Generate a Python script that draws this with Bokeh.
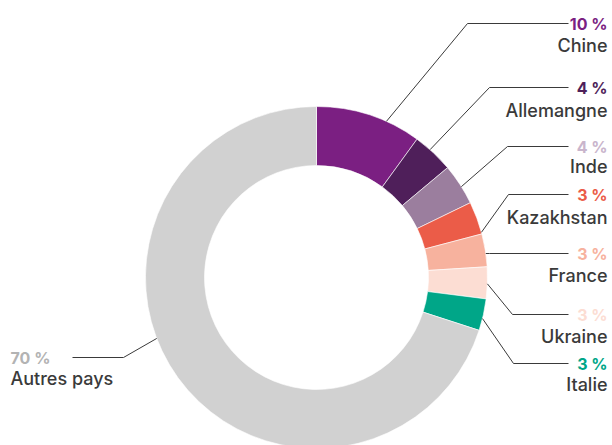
import numpy as np
from bokeh.plotting import figure
from bokeh.models import Range1d, ColumnDataSource
from bokeh.core.properties import value
from bokeh.embed import file_html
from bokeh.resources import INLINE

# ---- data ----
countries = ["Chine", "Allemangne", "Inde", "Kazakhstan", "France", "Ukraine", "Italie", "Autres pays"]
shares = [10.0, 3.9, 3.9, 3.1, 3.1, 3.0, 3.0, 70.0]
pct_labels = ["10 %", "4 %", "4 %", "3 %", "3 %", "3 %", "3 %", "70 %"]

# ---- styles ----
slice_colors = ["#7B1F82", "#4F1F5A", "#9B7E9E", "#EB5C48", "#F7B29E", "#FCDDD3", "#00A688", "#D1D1D1"]
pct_colors = ["#7B1F82", "#4F1F5A", "#C9B5CC", "#EB5C48", "#F7B29E", "#FCDDD3", "#00A688", "#B3B3B3"]
name_color = "#3A3A3A"
line_color = "#3A3A3A"
PCT_FONT = "Inter"
NAME_FONT = "Inter Medium, Inter"

# ---- layout (page pixel positions, converted below) ----
W, H = 612, 445
def px(x):
    return x
def py(y):
    return H - y

cx, cy = px(316), py(277)
r_out, r_in = 171, 112
anchor_frac = [0.67, 0.40, 0.56, 0.95, 0.60, 0.53, 0.62, 0.56]
label_y = [23, 87, 146, 194, 253, 314, 363, 357]      # leader / pct row
name_dy = [22, 23, 20, 23, 22, 22, 21, 21]             # name row offset below pct row
elbow_x = [467, 489, 507, 508, 489, 512, 513, 123]
line_end_x = [568, 568, 568, 568, 568, 568, 568, 72]
text_x_right = 607
text_x_left = 10

# ---- geometry from data ----
total = float(sum(shares))
cum = np.concatenate([[0.0], np.cumsum(shares)]) / total
starts = np.pi / 2 - 2 * np.pi * cum[:-1]
ends = np.pi / 2 - 2 * np.pi * cum[1:]

p = figure(width=W, height=H, output_backend="svg", toolbar_location=None,
           x_range=Range1d(0, W), y_range=Range1d(0, H),
           x_axis_location=None, y_axis_location=None, min_border=0)
p.outline_line_color = None
p.grid.visible = False
p.background_fill_color = "white"
p.border_fill_color = "white"

src = ColumnDataSource(dict(start=starts, end=ends, color=slice_colors, name=countries))
p.annular_wedge(x=cx, y=cy, inner_radius=r_in, outer_radius=r_out,
                start_angle="start", end_angle="end", direction="clock",
                fill_color="color", line_color="white", line_width=0.6, source=src)

# leader lines
xs, ys = [], []
for i in range(len(shares)):
    f = cum[i] + anchor_frac[i] * (cum[i + 1] - cum[i])
    a = np.pi / 2 - 2 * np.pi * f
    ax, ay = cx + r_out * np.cos(a), cy + r_out * np.sin(a)
    xs.append([ax, px(elbow_x[i]), px(line_end_x[i])])
    ys.append([ay, py(label_y[i]), py(label_y[i])])
p.multi_line(xs=xs, ys=ys, line_color=line_color, line_width=1)

# labels
n = len(shares)
right = list(range(n - 1))
left = [n - 1]
for idx, xpos, align in ((right, px(text_x_right), "right"), (left, px(text_x_left), "left")):
    s_pct = ColumnDataSource(dict(x=[xpos] * len(idx), y=[py(label_y[i]) for i in idx],
                                  t=[pct_labels[i] for i in idx], c=[pct_colors[i] for i in idx]))
    p.text(x="x", y="y", text="t", text_color="c", source=s_pct, text_align=align,
           text_baseline="middle", text_font=value(PCT_FONT), text_font_size="16px",
           text_font_style="bold")
    s_nm = ColumnDataSource(dict(x=[xpos] * len(idx), y=[py(label_y[i] + name_dy[i]) for i in idx],
                                 t=[countries[i] for i in idx]))
    p.text(x="x", y="y", text="t", text_color=name_color, source=s_nm, text_align=align,
           text_baseline="middle", text_font=value(NAME_FONT), text_font_size="18px",
           text_font_style="normal")

open("out.html", "w").write(file_html(p, INLINE))
